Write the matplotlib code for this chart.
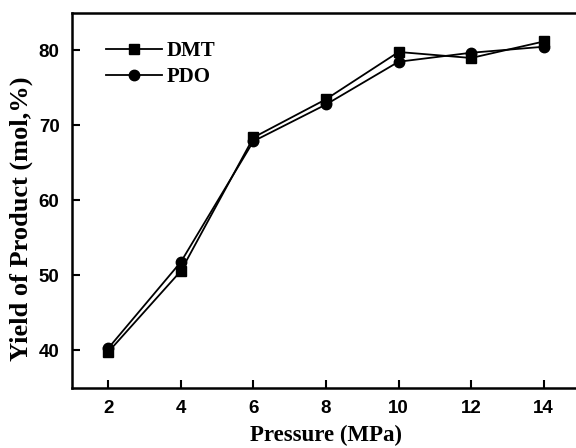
import matplotlib
matplotlib.use('Agg')
import matplotlib.pyplot as plt

# Yield vs. pressure
pressure = [2, 4, 6, 8, 10, 12, 14]
dmt = [39.8, 50.6, 68.4, 73.5, 79.8, 79.0, 81.2]
pdo = [40.3, 51.8, 67.9, 72.8, 78.5, 79.7, 80.5]

serif_bold = {'family': 'Liberation Serif', 'weight': 'bold'}

fig = plt.figure(figsize=(5.76, 4.48), dpi=100)
ax = fig.add_axes([0.125, 0.134, 0.882, 0.837])

ax.plot(pressure, dmt, color='black', lw=1.3, marker='s', ms=7.5, label='DMT')
ax.plot(pressure, pdo, color='black', lw=1.3, marker='o', ms=7.5, label='PDO')

ax.set_xlim(1, 15)
ax.set_ylim(35, 85)
ax.set_xticks([2, 4, 6, 8, 10, 12, 14])
ax.set_yticks([40, 50, 60, 70, 80])

for side in ['left', 'bottom', 'top', 'right']:
    ax.spines[side].set_linewidth(1.8)

ax.tick_params(direction='in', length=6, width=1.5, pad=9)
for lbl in ax.get_xticklabels() + ax.get_yticklabels():
    lbl.set_fontfamily('Liberation Sans')
    lbl.set_fontweight('bold')
    lbl.set_fontsize(13.5)

ax.set_xlabel('Pressure (MPa)', fontdict=serif_bold, fontsize=16.5, labelpad=5)
ax.set_ylabel('Yield of Product (mol,%)', fontdict=serif_bold, fontsize=19)
ax.yaxis.set_label_coords(-0.077, 0.45)

leg = ax.legend(loc='upper left', frameon=False, handlelength=2.7,
                prop={'family': 'Liberation Serif', 'weight': 'bold', 'size': 15},
                bbox_to_anchor=(0.03, 0.975), handletextpad=0.2, labelspacing=0.3)

fig.savefig('out.png', dpi=100)
